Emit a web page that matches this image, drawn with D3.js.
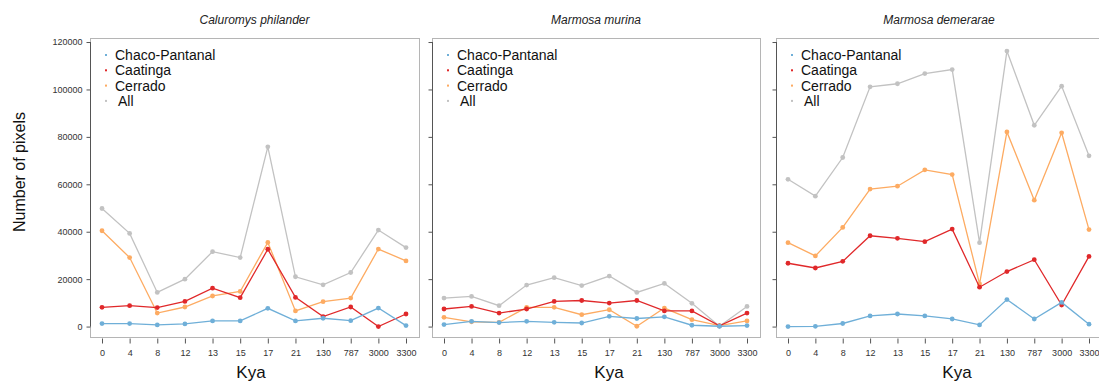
<!DOCTYPE html>
<html>
<head>
<meta charset="utf-8">
<script src="https://cdn.jsdelivr.net/npm/d3@7"></script>
<style>
  body { margin: 0; background: #fff; }
  text { font-family: "Liberation Sans", Arial, sans-serif; }
</style>
</head>
<body>
<svg id="chart" width="1099" height="381"></svg>
<script>
// categories on the x axis (Kya)
var kya = ["0", "4", "8", "12", "13", "15", "17", "21", "130", "787", "3000", "3300"];
var yTicks = [0, 20000, 40000, 60000, 80000, 100000, 120000];
var regions = ["Chaco-Pantanal", "Caatinga", "Cerrado", "All"];
var species = ["Caluromys philander", "Marmosa murina", "Marmosa demerarae"];

// Caluromys philander
var calChaco = [1260, 1260, 700, 1100, 2400, 2400, 7700, 2400, 3500, 2500, 7800, 400];
var calCaatinga = [8100, 8800, 8000, 10600, 16200, 12200, 32600, 12300, 4200, 8250, 0, 5300];
var calCerrado = [40400, 29100, 5700, 8250, 12900, 14800, 35500, 6600, 10500, 12000, 32700, 27700];
var calAll = [49800, 39300, 14400, 20000, 31600, 29100, 75800, 21000, 17600, 22800, 40700, 33300];

// Marmosa murina
var murChaco = [840, 2200, 1700, 2200, 1800, 1500, 4300, 3400, 4100, 560, 140, 420];
var murCaatinga = [7400, 8500, 5700, 7400, 10600, 11000, 9900, 11000, 6600, 6600, 300, 5700];
var murCerrado = [3900, 2000, 1800, 8100, 8100, 5000, 7100, 140, 7800, 2900, 400, 2400];
var murAll = [12000, 12700, 8800, 17500, 20600, 17300, 21300, 14400, 18200, 9800, 140, 8500];

// Marmosa demerarae
var demChaco = [0, 100, 1300, 4500, 5300, 4500, 3200, 700, 11400, 3200, 10200, 1000];
var demCaatinga = [26700, 24700, 27500, 38300, 37200, 35800, 41100, 16600, 23200, 28200, 9100, 29600];
var demCerrado = [35400, 29800, 41800, 58000, 59200, 66100, 64100, 18000, 82100, 53300, 81700, 40900];
var demAll = [62100, 55000, 71300, 101100, 102400, 106700, 108400, 35400, 116200, 84900, 101400, 72000];

var panelData = [
  [calChaco, calCaatinga, calCerrado, calAll],
  [murChaco, murCaatinga, murCerrado, murAll],
  [demChaco, demCaatinga, demCerrado, demAll]
];

var colors = { "Chaco-Pantanal": "#6fafd8", "Caatinga": "#e0282a", "Cerrado": "#fdab62", "All": "#c2c2c2" };

var panels = [
  { left: 90, right: 419, kyaX: 251 },
  { left: 432, right: 760, kyaX: 609 },
  { left: 776, right: 1102, kyaX: 957 }
];
var plotTop = 38, plotBottom = 337;

var svg = d3.select("#chart");

var y = d3.scaleLinear().domain([-4400, 121700]).range([plotBottom, plotTop]);

panels.forEach(function(p, pi) {
  var g = svg.append("g");
  var x = d3.scalePoint().domain(kya).range([p.left + 12, p.right - 13]);

  // box
  g.append("rect")
    .attr("x", p.left + 0.5).attr("y", plotTop + 0.5)
    .attr("width", p.right - p.left).attr("height", plotBottom - plotTop)
    .attr("fill", "none").attr("stroke", "#b5b5b5").attr("stroke-width", 1);

  // y axis
  var yAxis = d3.axisLeft(y).tickValues(yTicks).tickSize(4).tickSizeOuter(0)
    .tickFormat(pi == 0 ? d3.format("d") : function() { return ""; });
  var ya = g.append("g").attr("transform", "translate(" + (p.left + 0.5) + ",0)").call(yAxis);
  ya.select(".domain").attr("stroke", "#555").attr("d", "M0," + y(0) + "V" + y(120000));
  ya.selectAll(".tick line").attr("stroke", "#555");
  ya.selectAll(".tick text").attr("font-size", 9).attr("fill", "#333").attr("x", -8);

  // x axis
  var xAxis = d3.axisBottom(x).tickSize(5).tickSizeOuter(0);
  var xa = g.append("g").attr("transform", "translate(0," + (plotBottom + 1.5) + ")").call(xAxis);
  xa.select(".domain").remove();
  xa.selectAll(".tick line").attr("stroke", "#555");
  xa.selectAll(".tick text").attr("font-size", 9).attr("fill", "#333").attr("y", 11);

  // title
  g.append("text")
    .attr("x", (p.left + p.right) / 2).attr("y", 24)
    .attr("text-anchor", "middle").attr("font-size", 12).attr("font-style", "italic")
    .attr("fill", "#222").text(species[pi]);

  // Kya label
  g.append("text")
    .attr("x", p.kyaX).attr("y", 378)
    .attr("text-anchor", "middle").attr("font-size", 17).attr("fill", "#111").text("Kya");

  // series
  var line = d3.line().x(function(d, i) { return x(kya[i]); }).y(function(d) { return y(d); });
  regions.slice().reverse().forEach(function(r) {
    var vals = panelData[pi][regions.indexOf(r)];
    g.append("path").datum(vals)
      .attr("d", line).attr("fill", "none")
      .attr("stroke", colors[r]).attr("stroke-width", 1.3);
    g.selectAll(null).data(vals).enter().append("circle")
      .attr("cx", function(d, i) { return x(kya[i]); })
      .attr("cy", function(d) { return y(d); })
      .attr("r", 2.4).attr("fill", colors[r]);
  });

  // legend
  var lg = g.append("g");
  regions.forEach(function(r, i) {
    var ly = 55 + i * 15.3;
    lg.append("rect")
      .attr("x", p.left + 15).attr("y", ly - 1).attr("width", 2).attr("height", 2)
      .attr("fill", colors[r]);
    lg.append("text")
      .attr("x", p.left + (r == "All" ? 28 : 25)).attr("y", ly + 5)
      .attr("font-size", 14).attr("fill", "#111").text(r);
  });
});

// y axis title
svg.append("text")
  .attr("transform", "translate(25,172) rotate(-90)")
  .attr("text-anchor", "middle").attr("font-size", 16).attr("fill", "#111")
  .text("Number of pixels");
</script>
</body>
</html>
